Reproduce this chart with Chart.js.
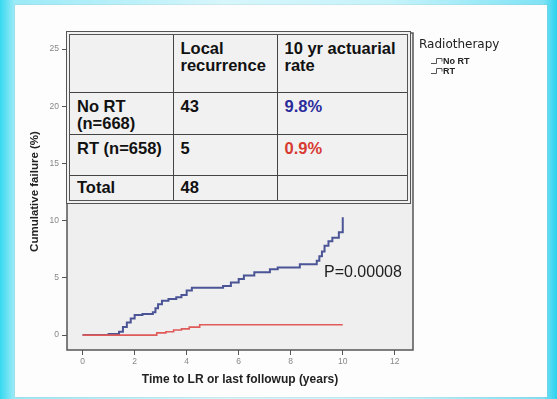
<!DOCTYPE html>
<html>
<head>
<meta charset="utf-8">
<script src="https://cdn.jsdelivr.net/npm/chart.js@4"></script>
<style>
  html, body { margin: 0; padding: 0; }
  body {
    width: 557px; height: 399px; overflow: hidden; position: relative;
    background: linear-gradient(90deg, #35d9f0 0%, #9aeaf7 2.5%, #d6f6fb 40%, #c6f3fa 70%, #7fe3f5 97.5%, #2bd2ee 100%);
    font-family: "Liberation Sans", Arial, sans-serif;
  }
  .slide {
    position: absolute; left: 15px; top: 5px; width: 532px; height: 392px;
    background: #fdfdfd; box-shadow: 0 0 1px #9aa;
  }
  #chart { position: absolute; left: 0; top: 0; }
  .tbl {
    position: absolute; left: 66px; top: 31px; width: 345px; height: 173px;
    box-sizing: border-box; border: 4px double #555; background: #f1f1f1;
  }
  .tbl table { width: 100%; height: 100%; border-collapse: collapse; border-style: hidden; table-layout: fixed; }
  .tbl td {
    border: 1px solid #444; vertical-align: top; padding: 5px 7px 0 7px;
    font-weight: bold; font-size: 16.5px; line-height: 17px; color: #111; white-space: pre-line;
  }
  .legend { position: absolute; left: 419px; top: 37px; color: #222; }
  .legend .ttl { font-family: "DejaVu Sans", sans-serif; font-size: 12px; line-height: 14px; }
  .legend .item { position: relative; height: 10px; margin-left: 12px; font-weight: bold; font-size: 9px; line-height: 10px; }
  .legend .item svg { position: absolute; left: 0; top: 1px; }
  .legend .item span { position: absolute; left: 12px; top: 0; }
  .pval { position: absolute; left: 324px; top: 263px; font-size: 16px; color: #222; }
</style>
</head>
<body>
<div class="slide"></div>
<canvas id="chart" width="557" height="399"></canvas>
<div class="tbl" id="tbl"></div>
<div class="legend" id="legend"></div>
<div class="pval">P=0.00008</div>

<script>
// Kaplan-Meier style cumulative failure (%)
const seriesLabels = ["No RT", "RT"];
const seriesColors = ["#4b5596", "#e05a5a"];

const noRtTimes  = [0, 1.0, 1.4, 1.55, 1.7, 1.85, 2.0, 2.3, 2.7, 2.8, 2.9, 3.05, 3.3, 3.6, 3.8, 4.0, 4.2, 5.4, 5.7, 6.0, 6.2, 6.6, 7.2, 7.5, 8.35, 9.0, 9.1, 9.2, 9.3, 9.45, 9.6, 9.85, 10.0, 10.0];
const noRtValues = [0, 0.1, 0.3, 0.7, 1.1, 1.45, 1.75, 1.85, 2.0, 2.35, 2.7, 3.0, 3.15, 3.3, 3.5, 3.9, 4.15, 4.3, 4.6, 4.9, 5.2, 5.5, 5.75, 5.9, 6.2, 6.5, 6.9, 7.3, 7.8, 8.2, 8.5, 9.0, 9.4, 10.3];

const rtTimes  = [0, 2.85, 3.2, 3.5, 3.8, 4.1, 4.5, 10.0];
const rtValues = [0, 0.2, 0.3, 0.45, 0.55, 0.7, 0.9, 0.9];

const xTicks = [0, 2, 4, 6, 8, 10, 12];
const yTicks = [0, 5, 10, 15, 20, 25];

// table shown over the plot
const tableHeader = ["", "Local\nrecurrence", "10 yr actuarial\nrate"];
const rowLabels = ["No RT\n(n=668)", "RT (n=658)", "Total"];
const recurrences = [43, 5, 48];
const rates = ["9.8%", "0.9%", ""];
const rateColors = ["#2b2c9c", "#d83a32", "#111"];

function toPoints(times, values) {
  return times.map(function (t, i) { return { x: t, y: values[i] }; });
}

// build table
const colWidths = [103, 104, 130];
const rowHeights = [57, 42, 41, 25];
let html = "<table><colgroup>" + colWidths.map(w => '<col style="width:' + w + 'px">').join("") + "</colgroup>";
html += '<tr style="height:' + rowHeights[0] + 'px">' + tableHeader.map(h => "<td>" + h + "</td>").join("") + "</tr>";
rowLabels.forEach(function (lab, i) {
  const pad = i === 2 ? ' style="padding-top:3px"' : "";
  html += '<tr style="height:' + rowHeights[i + 1] + 'px">' +
    "<td" + pad + ">" + lab + "</td>" +
    "<td" + pad + ">" + recurrences[i] + "</td>" +
    '<td style="color:' + rateColors[i] + (i === 2 ? ';padding-top:3px' : '') + '">' + rates[i] + "</td></tr>";
});
html += "</table>";
document.getElementById("tbl").innerHTML = html;

// legend
const stepIcon = '<svg width="12" height="8"><path d="M0 6.5 H5.5 V1.5 H11 V4.5" fill="none" stroke="#555" stroke-width="1"/></svg>';
let lg = '<div class="ttl">Radiotherapy</div><div style="height:5px"></div>';
seriesLabels.forEach(function (l) {
  lg += '<div class="item">' + stepIcon + "<span>" + l + "</span></div>";
});
document.getElementById("legend").innerHTML = lg;

// plot background + frame
const frame = {
  id: "frame",
  beforeDatasetsDraw(chart) {
    const a = chart.chartArea, c = chart.ctx;
    c.save();
    c.fillStyle = "#efefef";
    c.fillRect(a.left, a.top, a.right - a.left, a.bottom - a.top);
    c.restore();
  },
  afterDatasetsDraw(chart) {
    const a = chart.chartArea, c = chart.ctx;
    c.save();
    c.strokeStyle = "#555";
    c.lineWidth = 1.5;
    c.strokeRect(a.left, a.top, a.right - a.left, a.bottom - a.top);
    c.restore();
  }
};

new Chart(document.getElementById("chart"), {
  type: "line",
  data: {
    datasets: [
      {
        label: seriesLabels[1],
        data: toPoints(rtTimes, rtValues),
        borderColor: seriesColors[1],
        borderWidth: 1.6,
        stepped: true,
        pointRadius: 0
      },
      {
        label: seriesLabels[0],
        data: toPoints(noRtTimes, noRtValues),
        borderColor: seriesColors[0],
        borderWidth: 2,
        stepped: true,
        pointRadius: 0
      }
    ]
  },
  options: {
    responsive: false,
    animation: false,
    layout: { padding: { left: 20, right: 144, top: 33, bottom: 9 } },
    plugins: { legend: { display: false }, tooltip: { enabled: false } },
    scales: {
      x: {
        type: "linear",
        min: -0.6,
        max: 12.7,
        afterBuildTicks: function (s) { s.ticks = xTicks.map(v => ({ value: v })); },
        afterFit: function (s) { s.height = 40; },
        grid: { drawOnChartArea: false, drawTicks: true, tickLength: 5, color: "#555", lineWidth: 1 },
        border: { display: false },
        ticks: { padding: 2, color: "#888", font: { size: 8.5 } },
        title: {
          display: true,
          text: "Time to LR or last followup (years)",
          color: "#222",
          font: { size: 12, weight: "bold", family: "Liberation Sans" },
          padding: { top: 0, bottom: 3 }
        }
      },
      y: {
        min: -1.3,
        max: 26.4,
        afterBuildTicks: function (s) { s.ticks = yTicks.map(v => ({ value: v })); },
        afterFit: function (s) { s.width = 47; },
        grid: { drawOnChartArea: false, drawTicks: true, tickLength: 5, color: "#555", lineWidth: 1 },
        border: { display: false },
        ticks: { padding: 3, color: "#888", font: { size: 8.5 } },
        title: {
          display: true,
          text: "Cumulative failure (%)",
          color: "#222",
          font: { size: 11.5, weight: "bold", family: "Liberation Sans" },
          padding: { top: 8, bottom: 0 }
        }
      }
    }
  },
  plugins: [frame]
});
</script>
</body>
</html>
